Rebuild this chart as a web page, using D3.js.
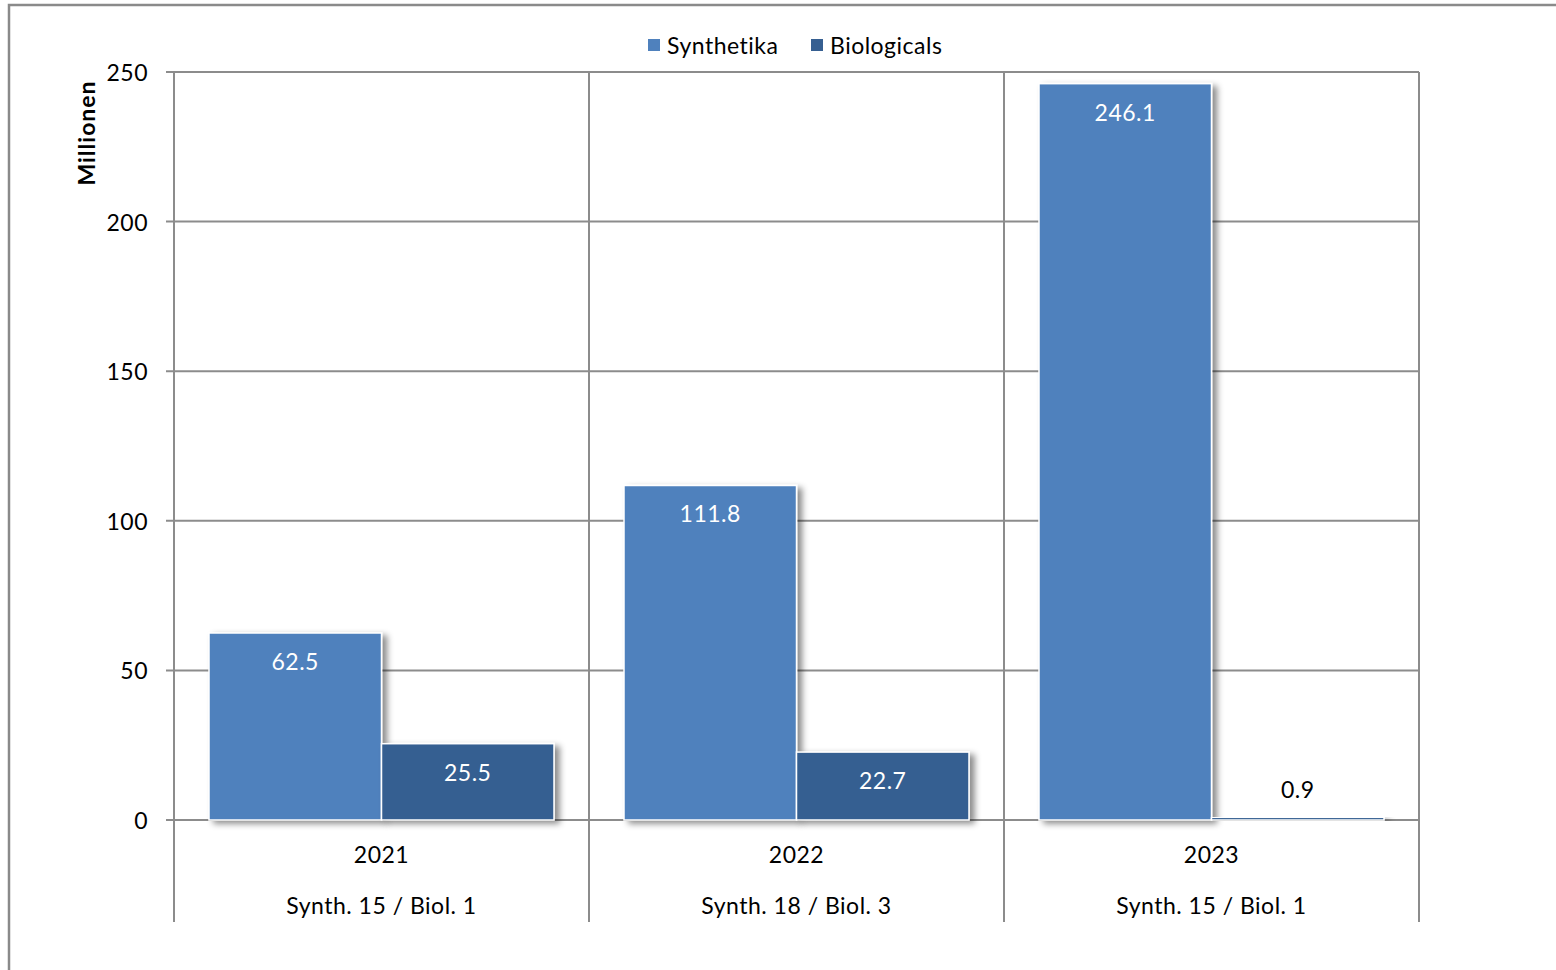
<!DOCTYPE html>
<html>
<head>
<meta charset="utf-8">
<script src="https://cdn.jsdelivr.net/npm/d3@7"></script>
<style>
  html, body { margin: 0; padding: 0; background: #fff; }
  svg { display: block; font-family: Lato, "Open Sans", sans-serif; }
  svg text { letter-spacing: 0.5px; }
</style>
</head>
<body>
<svg id="chart" width="1556" height="970"></svg>
<script>
// Data
const years = ["2021", "2022", "2023"];
const subLabels = ["Synth. 15 / Biol. 1", "Synth. 18 / Biol. 3", "Synth. 15 / Biol. 1"];
const seriesNames = ["Synthetika", "Biologicals"];
const synthetika = [62.5, 111.8, 246.1];
const biologicals = [25.5, 22.7, 0.9];
const yTicks = [0, 50, 100, 150, 200, 250];
const colors = ["#4f81bd", "#365f91"];

const svg = d3.select("#chart");
const plot = { left: 174, right: 1419, top: 72, bottom: 820 };
const gridColor = "#8c8c8c";
const fs = 23;

// Outer frame
svg.append("path")
  .attr("d", "M9,970 V5 H1556")
  .attr("fill", "none").attr("stroke", "#8a8a8a").attr("stroke-width", 2.5);

// Drop shadow for bars
const defs = svg.append("defs");
const f = defs.append("filter").attr("id", "shadow")
  .attr("x", "-10%").attr("y", "-10%").attr("width", "130%").attr("height", "130%");
f.append("feDropShadow").attr("dx", 5).attr("dy", 3).attr("stdDeviation", 3)
  .attr("flood-color", "#000").attr("flood-opacity", 0.45);

const x = d3.scaleBand().domain(years).range([plot.left, plot.right]).padding(0);
const xs = d3.scaleBand().domain(seriesNames).range([35, x.bandwidth() - 35]).padding(0);
const y = d3.scaleLinear().domain([0, 250]).range([plot.bottom, plot.top]);

// Horizontal gridlines with tick marks
svg.append("g").selectAll("line").data(yTicks).join("line")
  .attr("x1", plot.left - 8).attr("x2", plot.right)
  .attr("y1", d => y(d)).attr("y2", d => y(d))
  .attr("stroke", gridColor).attr("stroke-width", 2);

// Vertical category dividers, extending through the label rows
const bounds = years.map(d => x(d)).concat([plot.right]);
svg.append("g").selectAll("line").data(bounds).join("line")
  .attr("x1", d => d).attr("x2", d => d)
  .attr("y1", plot.top).attr("y2", 922)
  .attr("stroke", gridColor).attr("stroke-width", 2);

// Y tick labels
svg.append("g").selectAll("text").data(yTicks).join("text")
  .attr("x", 148).attr("y", d => y(d))
  .attr("text-anchor", "end").attr("dominant-baseline", "central")
  .attr("font-size", fs).attr("fill", "#000")
  .text(d => d);

// Y axis title
svg.append("text")
  .attr("transform", "translate(86,133) rotate(-90)")
  .attr("text-anchor", "middle").attr("dominant-baseline", "central")
  .attr("font-size", fs).attr("font-weight", "bold").attr("fill", "#000")
  .style("letter-spacing", "1px")
  .text("Millionen");

// Bars
const rows = years.map((yr, i) => ({ year: yr, values: [
  { key: "Synthetika", v: synthetika[i], c: colors[0] },
  { key: "Biologicals", v: biologicals[i], c: colors[1] }
]}));

const groups = svg.append("g").selectAll("g").data(rows).join("g")
  .attr("transform", d => `translate(${x(d.year)},0)`);

groups.selectAll("rect").data(d => d.values).join("rect")
  .attr("x", d => xs(d.key))
  .attr("y", d => y(d.v))
  .attr("width", xs.bandwidth())
  .attr("height", d => y(0) - y(d.v))
  .attr("fill", d => d.c)
  .attr("stroke", "#fff").attr("stroke-width", 1.5)
  .attr("filter", "url(#shadow)");

// Value labels: inside tall bars (white), above tiny bars (black)
groups.selectAll("text.val").data(d => d.values).join("text")
  .attr("class", "val")
  .attr("x", d => xs(d.key) + xs.bandwidth() / 2)
  .attr("y", d => (y(0) - y(d.v)) > 40 ? y(d.v) + 28 : y(d.v) - 28)
  .attr("text-anchor", "middle").attr("dominant-baseline", "central")
  .attr("font-size", fs)
  .attr("fill", d => (y(0) - y(d.v)) > 40 ? "#fff" : "#000")
  .text(d => d.v.toFixed(1));

// Category labels (two rows)
svg.append("g").selectAll("text").data(years).join("text")
  .attr("x", d => x(d) + x.bandwidth() / 2).attr("y", 854)
  .attr("text-anchor", "middle").attr("dominant-baseline", "central")
  .attr("font-size", fs).attr("fill", "#000")
  .text(d => d);

svg.append("g").selectAll("text").data(years).join("text")
  .attr("x", d => x(d) + x.bandwidth() / 2).attr("y", 905)
  .attr("text-anchor", "middle").attr("dominant-baseline", "central")
  .attr("font-size", fs).attr("fill", "#000")
  .text((d, i) => subLabels[i]);

// Legend
const legendX = [648, 811];
const lg = svg.append("g").selectAll("g").data(seriesNames).join("g")
  .attr("transform", (d, i) => `translate(${legendX[i]},39)`);
lg.append("rect").attr("width", 12).attr("height", 12)
  .attr("fill", (d, i) => colors[i]);
lg.append("text").attr("x", 19).attr("y", 5.5)
  .attr("dominant-baseline", "central")
  .attr("font-size", fs).attr("fill", "#000")
  .text(d => d);
</script>
</body>
</html>
